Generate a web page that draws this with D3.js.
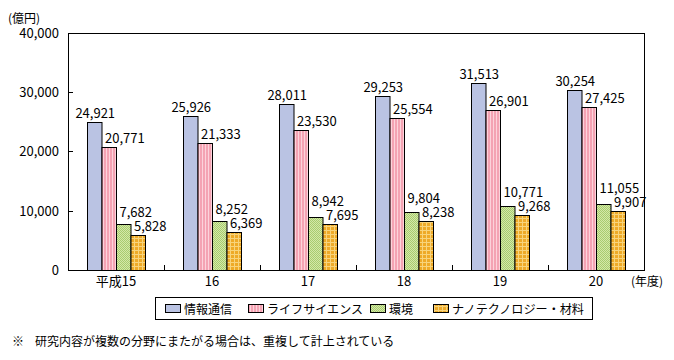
<!DOCTYPE html>
<html>
<head>
<meta charset="utf-8">
<script src="https://cdn.jsdelivr.net/npm/d3@7"></script>
<style>
  body { margin: 0; background: #fff; }
  text { font-family: "Noto Sans CJK JP", "Noto Sans", sans-serif; fill: #000; }
</style>
</head>
<body>
<svg id="canvas" width="674" height="360"></svg>
<script>
// data (億円)
const years = ["平成15", "16", "17", "18", "19", "20"];
const seriesNames = ["情報通信", "ライフサイエンス", "環境", "ナノテクノロジー・材料"];
const infoComm = [24921, 25926, 28011, 29253, 31513, 30254];
const lifeSci = [20771, 21333, 23530, 25554, 26901, 27425];
const environ = [7682, 8252, 8942, 9804, 10771, 11055];
const nanoTech = [5828, 6369, 7695, 8238, 9268, 9907];
const yTicks = [0, 10000, 20000, 30000, 40000];

const allSeries = [infoComm, lifeSci, environ, nanoTech];
const fills = ["#bac3e3", "url(#pPink)", "url(#pGreen)", "url(#pOrange)"];

let canvas = d3.select("#canvas");
let defs = canvas.append("defs");

// pink: vertical stripes
let pk = defs.append("pattern").attr("id", "pPink").attr("patternUnits", "userSpaceOnUse")
  .attr("width", 3).attr("height", 3);
pk.append("rect").attr("width", 3).attr("height", 3).attr("fill", "#f4a3b3");
pk.append("rect").attr("x", 1).attr("width", 1).attr("height", 3).attr("fill", "#fcd3db");

// green: checker dots
let gr = defs.append("pattern").attr("id", "pGreen").attr("patternUnits", "userSpaceOnUse")
  .attr("width", 2).attr("height", 2);
gr.append("rect").attr("width", 2).attr("height", 2).attr("fill", "#d4e8a8");
gr.append("rect").attr("width", 1).attr("height", 1).attr("fill", "#a8cc70");
gr.append("rect").attr("x", 1).attr("y", 1).attr("width", 1).attr("height", 1).attr("fill", "#a8cc70");

// orange: grid
let og = defs.append("pattern").attr("id", "pOrange").attr("patternUnits", "userSpaceOnUse")
  .attr("width", 4).attr("height", 4);
og.append("rect").attr("width", 4).attr("height", 4).attr("fill", "#eeaa28");
og.append("rect").attr("x", 2).attr("width", 1).attr("height", 4).attr("fill", "#f8d47c");
og.append("rect").attr("y", 2).attr("width", 4).attr("height", 1).attr("fill", "#f8d47c");

const plotLeft = 68, plotRight = 644, plotTop = 32.5, plotBottom = 270;

let x = d3.scaleBand().domain(years).range([plotLeft, plotRight]);
let xs = d3.scaleBand().domain(d3.range(4)).range([0, 58]);
let y = d3.scaleLinear().domain([0, 40000]).range([plotBottom, plotTop]);

let g = canvas.append("g");

const barX = (i, si) => x(years[i]) + x.bandwidth() / 2 - 29 + xs(si);

// baseline of each value label; green label is pushed up above the orange one
const labelY = (si, i) => {
  const own = Math.round(y(allSeries[si][i])) - 4;
  if (si == 2) {
    const orangeBase = Math.round(y(nanoTech[i])) - 4;
    return Math.min(own, orangeBase - 14);
  }
  return own;
};

// bars
allSeries.forEach((vals, si) => {
  g.selectAll(".bar" + si)
    .data(vals)
    .enter()
    .append("rect")
    .attr("x", (d, i) => barX(i, si) + 0.5)
    .attr("y", (d) => Math.round(y(d)) + 0.5)
    .attr("width", xs.bandwidth())
    .attr("height", (d) => plotBottom - Math.round(y(d)))
    .attr("fill", fills[si])
    .attr("stroke", "#000")
    .attr("stroke-width", 1);

  g.selectAll(".lbl" + si)
    .data(vals)
    .enter()
    .append("text")
    .attr("x", (d, i) => (si == 0 ? barX(i, si) + xs.bandwidth() / 2 + 1 : barX(i, si) + 3.5))
    .attr("y", (d, i) => labelY(si, i))
    .attr("text-anchor", si == 0 ? "middle" : "start")
    .attr("font-size", 13)
    .text((d) => d3.format(",")(d));
});

// frame
g.append("rect")
  .attr("x", plotLeft + 0.5).attr("y", Math.round(plotTop) + 0.5)
  .attr("width", plotRight - plotLeft).attr("height", plotBottom - Math.round(plotTop))
  .attr("fill", "none").attr("stroke", "#000");

// y ticks (inside) and labels
yTicks.forEach((t) => {
  const ty = Math.round(y(t)) + 0.5;
  if (t > 0 && t < 40000) {
    g.append("line").attr("x1", plotLeft).attr("x2", plotLeft + 5).attr("y1", ty).attr("y2", ty).attr("stroke", "#000");
  }
  g.append("text")
    .attr("x", 59).attr("y", ty + 4.5)
    .attr("text-anchor", "end").attr("font-size", 13)
    .text(d3.format(",")(t));
});

// x category ticks between groups
years.slice(1).forEach((yr) => {
  const tx = Math.round(x(yr)) + 0.5;
  g.append("line").attr("x1", tx).attr("x2", tx).attr("y1", plotBottom - 5).attr("y2", plotBottom).attr("stroke", "#000");
});

g.selectAll(".cat")
  .data(years)
  .enter()
  .append("text")
  .attr("x", (d) => x(d) + x.bandwidth() / 2)
  .attr("y", 286)
  .attr("text-anchor", "middle")
  .attr("font-size", 13)
  .text((d) => d);

canvas.append("text").attr("x", 8).attr("y", 23).attr("font-size", 12).text("(億円)");
canvas.append("text").attr("x", 631).attr("y", 286).attr("font-size", 12).text("(年度)");

// legend
const legX = [165, 248, 370, 433];
const legW = [48, 96, 24, 132];
let leg = canvas.append("g");
leg.append("rect").attr("x", 155.5).attr("y", 297.5).attr("width", 437).attr("height", 22)
  .attr("fill", "#fff").attr("stroke", "#000");
seriesNames.forEach((name, i) => {
  leg.append("rect").attr("x", legX[i] + 0.5).attr("y", 304.5).attr("width", 15).attr("height", 8)
    .attr("fill", fills[i]).attr("stroke", "#000");
  leg.append("text").attr("x", legX[i] + 19).attr("y", 313.5).attr("font-size", 12)
    .attr("textLength", legW[i]).attr("lengthAdjust", "spacingAndGlyphs")
    .text(name);
});

canvas.append("text").attr("x", 12).attr("y", 346).attr("font-size", 12).text("※");
canvas.append("text").attr("x", 35).attr("y", 346).attr("font-size", 12)
  .text("研究内容が複数の分野にまたがる場合は、重複して計上されている");
</script>
</body>
</html>
